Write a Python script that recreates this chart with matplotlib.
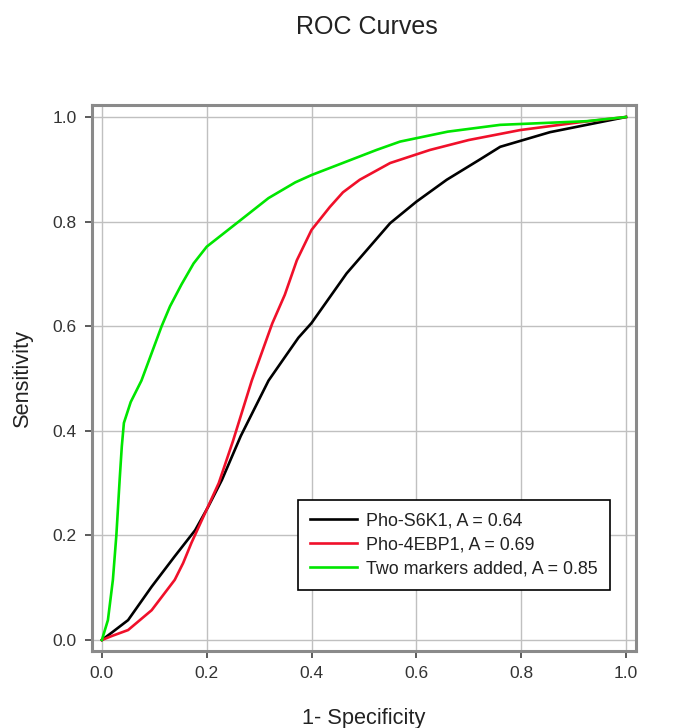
import matplotlib
matplotlib.use('Agg')
import matplotlib.pyplot as plt

plt.rcParams['font.family'] = ['Liberation Sans', 'DejaVu Sans']

# ROC points
fpr_s6k1 = [0, 0.02, 0.05, 0.095, 0.139, 0.178, 0.203, 0.229, 0.265, 0.318, 0.352, 0.375,
            0.40, 0.467, 0.55, 0.60, 0.658, 0.72, 0.76, 0.855, 0.925, 1.0]
tpr_s6k1 = [0, 0.015, 0.038, 0.102, 0.16, 0.21, 0.255, 0.306, 0.39, 0.496, 0.545, 0.578,
            0.606, 0.701, 0.797, 0.838, 0.88, 0.918, 0.943, 0.971, 0.985, 1.0]

fpr_4ebp1 = [0, 0.02, 0.05, 0.095, 0.139, 0.155, 0.171, 0.197, 0.223, 0.25, 0.286, 0.325,
             0.349, 0.372, 0.40, 0.435, 0.46, 0.492, 0.55, 0.626, 0.70, 0.798, 0.912, 1.0]
tpr_4ebp1 = [0, 0.008, 0.019, 0.057, 0.115, 0.147, 0.186, 0.243, 0.30, 0.38, 0.496, 0.605,
             0.66, 0.726, 0.784, 0.828, 0.856, 0.88, 0.912, 0.937, 0.956, 0.975, 0.99, 1.0]

fpr_both = [0, 0.0115, 0.021, 0.0276, 0.034, 0.038, 0.042, 0.055, 0.0755, 0.114, 0.13, 0.152,
            0.175, 0.2, 0.261, 0.318, 0.369, 0.40, 0.524, 0.569, 0.66, 0.76, 0.925, 1.0]
tpr_both = [0, 0.038, 0.115, 0.2, 0.308, 0.37, 0.415, 0.455, 0.496, 0.6, 0.638, 0.68,
            0.72, 0.752, 0.8, 0.845, 0.875, 0.889, 0.937, 0.953, 0.972, 0.985, 0.992, 1.0]

labels = ['Pho-S6K1, A = 0.64', 'Pho-4EBP1, A = 0.69', 'Two markers added, A = 0.85']
colors = ['black', '#f0102a', '#00e600']
ticks = [0.0, 0.2, 0.4, 0.6, 0.8, 1.0]

fig = plt.figure(figsize=(6.86, 7.28), dpi=100)
ax = fig.add_axes([0.134, 0.1058, 0.793, 0.75])

for fx, ty, lab, col in zip([fpr_s6k1, fpr_4ebp1, fpr_both],
                            [tpr_s6k1, tpr_4ebp1, tpr_both], labels, colors):
    ax.plot(fx, ty, color=col, lw=1.9, label=lab, solid_joinstyle='round')

ax.set_xlim(-0.019, 1.019)
ax.set_ylim(-0.021, 1.023)
ax.set_xticks(ticks)
ax.set_yticks(ticks)
ax.set_xticklabels(['%.1f' % t for t in ticks])
ax.set_yticklabels(['%.1f' % t for t in ticks])
ax.grid(True, color='#c0c0c0', lw=1.0)
ax.set_axisbelow(True)
ax.tick_params(direction='out', length=5, width=1.2, color='#404040',
               labelsize=12.5, labelcolor='#333333', pad=6)

for sp in ax.spines.values():
    sp.set_color('#8a8a8a')
    sp.set_linewidth(2.2)

ax.set_xlabel('1- Specificity', fontsize=15.7, color='#222222', labelpad=19)
ax.set_ylabel('Sensitivity', fontsize=15.7, color='#222222', labelpad=14)
fig.text(0.535, 0.963, 'ROC Curves', fontsize=18, color='#222222',
         ha='center', va='center')

leg = ax.legend(loc='lower right', bbox_to_anchor=(0.952, 0.112), fontsize=12.9,
                frameon=True, fancybox=False, handlelength=2.6, handletextpad=0.5,
                labelspacing=0.38, borderpad=0.7, borderaxespad=0)
leg.get_frame().set_edgecolor('black')
leg.get_frame().set_linewidth(1.2)
leg.get_frame().set_alpha(1)
for t in leg.get_texts():
    t.set_color('#222222')

fig.savefig('out.png', dpi=100)
